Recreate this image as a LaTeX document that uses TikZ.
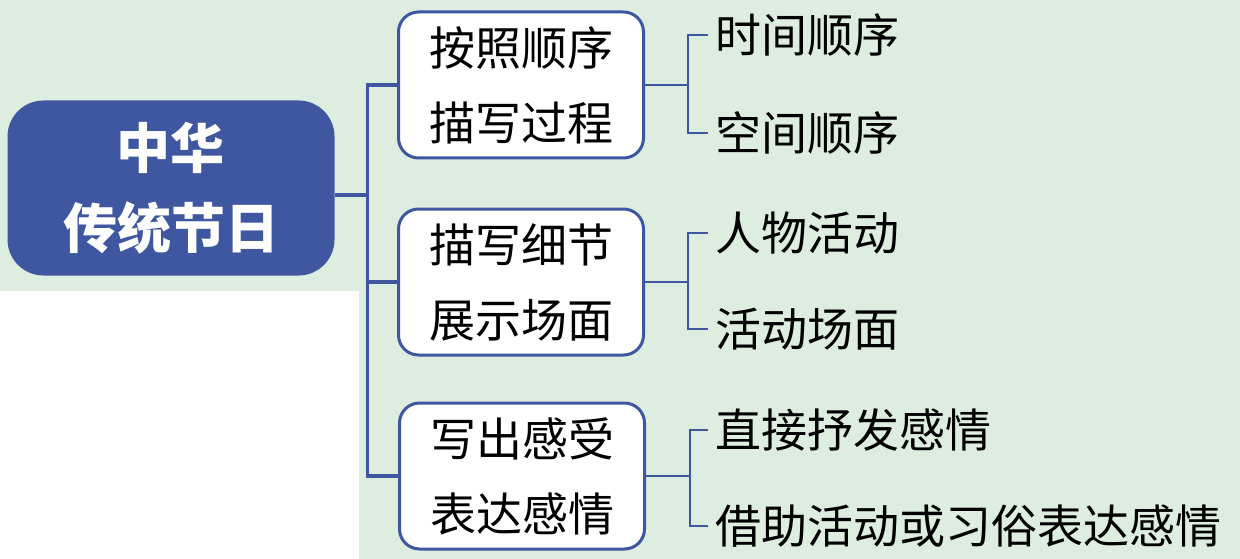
\documentclass[tikz,border=0pt]{standalone}
\usepackage{fontspec}
\usepackage{tikz}
\usetikzlibrary{positioning,calc}
\newfontfamily\cjk{Noto Sans CJK SC}
\definecolor{FestBlue}{RGB}{62,87,160}
\definecolor{FestGreen}{RGB}{221,237,224}

\begin{document}
\begin{tikzpicture}[
    x=1pt, y=-1pt,
    root/.style={
        rectangle,
        rounded corners=36pt,
        fill=FestBlue,
        text=white,
        align=center,
        minimum width=327pt,
        minimum height=175pt,
        font=\fontsize{54pt}{80pt}\selectfont\cjk\bfseries
    },
    topic/.style={
        rectangle,
        rounded corners=20pt,
        draw=FestBlue,
        line width=3pt,
        fill=white,
        align=center,
        minimum width=245pt,
        minimum height=146pt,
        font=\fontsize{46pt}{75pt}\selectfont\cjk
    },
    leaf/.style={
        anchor=west,
        inner sep=0pt,
        font=\fontsize{46pt}{46pt}\selectfont\cjk
    },
    trunk/.style={
        draw=FestBlue,
        line width=3.4pt
    },
    twig/.style={
        draw=FestBlue,
        line width=1.2pt
    }
]

% background
\useasboundingbox (0,0) rectangle (1240,559);
\fill[FestGreen] (0,0) rectangle (1240,559);
\fill[white] (0,291) rectangle (359,559);

\node[root] (festival) at (171,188) {中华\\传统节日};

\node[topic] (order)  at (521,85)  {按照顺序\\描写过程};
\node[topic] (detail) at (521,282) {描写细节\\展示场面};
\node[topic] (feel)   at (522,476) {写出感受\\表达感情};

\node[leaf] (time)   at (715,35)  {时间顺序};
\node[leaf] (space)  at (715,133) {空间顺序};
\node[leaf] (people) at (715,233) {人物活动};
\node[leaf] (scene)  at (715,329) {活动场面};
\node[leaf] (direct) at (715,430) {直接抒发感情};
\node[leaf] (custom) at (715,526) {借助活动或习俗表达感情};

\path ([yshift=-7pt]festival.east) coordinate (port) ++(33,0) coordinate (stem);

\draw[trunk] (port) -- (stem);
\draw[trunk] (order.west) -| (stem);
\draw[trunk] (detail.west) -| (stem);
\draw[trunk] (feel.west) -| (stem);

\draw[twig] (order.east) -- ++(43,0) coordinate (k1);
\draw[twig] ([xshift=-7pt]time.west) -| (k1) |- ([xshift=-7pt]space.west);

\draw[twig] (detail.east) -- ++(43,0) coordinate (k2);
\draw[twig] ([xshift=-7pt]people.west) -| (k2) |- ([xshift=-7pt]scene.west);

\draw[twig] (feel.east) -- ++(44,0) coordinate (k3);
\draw[twig] ([xshift=-7pt]direct.west) -| (k3) |- ([xshift=-7pt]custom.west);

\end{tikzpicture}
\end{document}
